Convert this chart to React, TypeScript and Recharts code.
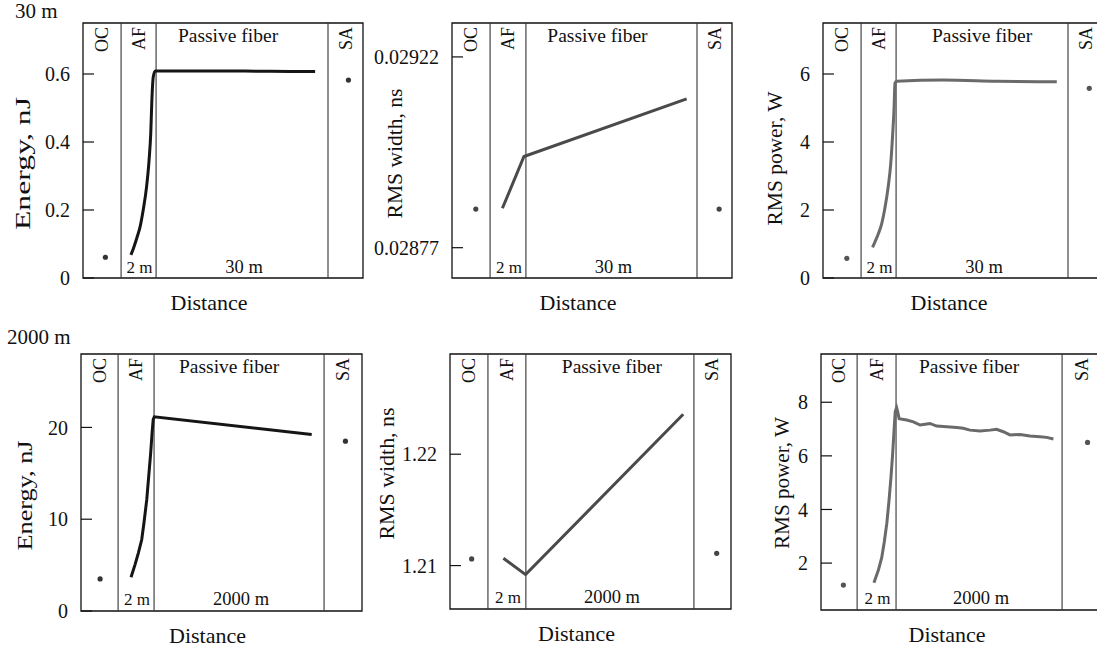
import { ComposedChart, Line, Scatter, XAxis, YAxis, ReferenceLine, ReferenceArea } from 'recharts';

const FONT = '"Liberation Serif", "Times New Roman", serif';
const INK = '#111';

// x runs 0..100 across each panel box: OC | AF | Passive fiber | SA
const X_DOMAIN: [number, number] = [0, 100];

// ---- 30 m fiber ----
const energy30Curve = [
  { x: 17.1, y: 0.068 }, { x: 18.0, y: 0.087 }, { x: 19.2, y: 0.117 }, { x: 20.4, y: 0.151 },
  { x: 21.5, y: 0.2 }, { x: 22.7, y: 0.268 }, { x: 23.6, y: 0.347 }, { x: 24.2, y: 0.426 },
  { x: 24.6, y: 0.524 }, { x: 25.1, y: 0.592 }, { x: 25.8, y: 0.609 }, { x: 41.8, y: 0.609 },
  { x: 66.8, y: 0.608 }, { x: 82.9, y: 0.607 },
];
const energy30Dots = [{ x: 8.0, y: 0.061 }, { x: 94.8, y: 0.582 }];
const energy30Edges = [13.6, 26.1, 87.5];
const energy30Ticks = [0, 0.2, 0.4, 0.6];

const width30Curve = [
  { x: 18.0, y: 0.028863 }, { x: 25.7, y: 0.028985 }, { x: 83.8, y: 0.029121 },
];
const width30Dots = [{ x: 8.5, y: 0.028861 }, { x: 95.4, y: 0.028861 }];
const width30Edges = [13.6, 26.4, 87.5];
const width30Ticks = [0.02877, 0.02922];

const power30Curve = [
  { x: 17.7, y: 0.9 }, { x: 18.6, y: 1.07 }, { x: 19.8, y: 1.31 }, { x: 21.0, y: 1.61 },
  { x: 22.1, y: 2.05 }, { x: 23.3, y: 2.69 }, { x: 24.2, y: 3.37 }, { x: 24.9, y: 4.25 },
  { x: 25.4, y: 5.04 }, { x: 25.7, y: 5.73 }, { x: 26.3, y: 5.79 }, { x: 43.0, y: 5.82 },
  { x: 62.0, y: 5.79 }, { x: 83.5, y: 5.77 },
];
const power30Dots = [{ x: 8.5, y: 0.58 }, { x: 95.1, y: 5.58 }];
const power30Edges = [13.6, 26.1, 87.5];
const power30Ticks = [0, 2, 4, 6];

// ---- 2000 m fiber ----
const energy2000Curve = [
  { x: 17.8, y: 3.68 }, { x: 19.2, y: 5.03 }, { x: 20.4, y: 6.31 }, { x: 21.6, y: 7.76 },
  { x: 22.4, y: 9.58 }, { x: 23.4, y: 12.13 }, { x: 24.2, y: 15.05 }, { x: 24.8, y: 17.23 },
  { x: 25.3, y: 19.42 }, { x: 25.7, y: 20.87 }, { x: 26.1, y: 21.16 }, { x: 82.1, y: 19.23 },
];
const energy2000Dots = [{ x: 6.8, y: 3.5 }, { x: 94.1, y: 18.5 }];
const energy2000Edges = [13.2, 26.0, 86.5];
const energy2000Ticks = [0, 10, 20];

const width2000Curve = [
  { x: 19.0, y: 1.21066 }, { x: 26.9, y: 1.20919 }, { x: 83.0, y: 1.22359 },
];
const width2000Dots = [{ x: 7.7, y: 1.2106 }, { x: 94.9, y: 1.2111 }];
const width2000Edges = [13.5, 27.0, 86.8];
const width2000Ticks = [1.21, 1.22];

const power2000Curve = [
  { x: 18.9, y: 1.27 }, { x: 20.5, y: 1.74 }, { x: 21.7, y: 2.21 }, { x: 22.6, y: 2.79 },
  { x: 23.5, y: 3.48 }, { x: 24.3, y: 4.34 }, { x: 25.0, y: 5.22 }, { x: 25.6, y: 6.09 },
  { x: 26.1, y: 6.96 }, { x: 26.5, y: 7.64 }, { x: 27.0, y: 7.8 }, { x: 27.4, y: 7.64 },
  { x: 27.9, y: 7.39 }, { x: 30.6, y: 7.34 }, { x: 33.0, y: 7.27 }, { x: 35.4, y: 7.15 },
  { x: 37.8, y: 7.19 }, { x: 38.9, y: 7.21 }, { x: 41.3, y: 7.11 }, { x: 44.9, y: 7.09 },
  { x: 48.5, y: 7.06 }, { x: 50.8, y: 7.03 }, { x: 53.2, y: 6.96 }, { x: 56.8, y: 6.93 },
  { x: 60.4, y: 6.96 }, { x: 62.7, y: 6.99 }, { x: 65.1, y: 6.9 }, { x: 67.5, y: 6.78 },
  { x: 71.1, y: 6.8 }, { x: 74.6, y: 6.74 }, { x: 78.2, y: 6.71 }, { x: 80.6, y: 6.69 },
  { x: 83.0, y: 6.63 },
];
const power2000Dots = [{ x: 8.0, y: 1.18 }, { x: 95.2, y: 6.5 }];
const power2000Edges = [12.9, 26.8, 86.1];
const power2000Ticks = [2, 4, 6, 8];

const Y_AXIS_W = 80;
const TOP_PAD = 5;
const X_AXIS_H = 45;

interface PanelProps {
  left: number; top: number; plotW: number; plotH: number;
  curve: { x: number; y: number }[];
  dots: { x: number; y: number }[];
  edges: number[];
  yDomain: [number, number];
  ticks: number[];
  yTitle: string;
  yTitleDx: number; yTitleDy: number; yTitleLen: number;
  pfDx: number; bottomPad: number;
  length: string;
  lineColor: string; dotColor: string;
  curveType: 'linear' | 'monotone';
}

function Panel(p: PanelProps) {
  const w = Y_AXIS_W + p.plotW + 5;
  const h = TOP_PAD + p.plotH + X_AXIS_H;
  const [e0, e1, e2] = p.edges;

  const rotated = (text: string) => (props: any) => {
    const vb = props.viewBox;
    const cx = vb.x + vb.width / 2;
    const cy = vb.y + 4;
    return (
      <text x={cx} y={cy} transform={`rotate(-90 ${cx} ${cy})`} textAnchor="end" dominantBaseline="central"
        fontFamily={FONT} fontSize={18} fill={INK}>{text}</text>
    );
  };
  const afLabel = (props: any) => {
    const vb = props.viewBox;
    const cx = vb.x + vb.width / 2;
    return (
      <g>
        {rotated('AF')(props)}
        <text x={cx + 1} y={vb.y + vb.height - p.bottomPad} textAnchor="middle" fontFamily={FONT} fontSize={17} fill={INK}>2 m</text>
      </g>
    );
  };
  const pfLabel = (props: any) => {
    const vb = props.viewBox;
    const cx = vb.x + vb.width / 2;
    return (
      <g>
        <text x={cx + p.pfDx} y={vb.y + 19} textAnchor="middle" fontFamily={FONT} fontSize={19.5} fill={INK}>Passive fiber</text>
        <text x={cx + 2} y={vb.y + vb.height - p.bottomPad} textAnchor="middle" fontFamily={FONT} fontSize={18.5} fill={INK}>{p.length}</text>
      </g>
    );
  };
  const yLabel = (props: any) => {
    const vb = props.viewBox;
    const cx = vb.x + vb.width + p.yTitleDx;
    const cy = vb.y + vb.height / 2 + p.yTitleDy;
    return (
      <text x={cx} y={cy} transform={`rotate(-90 ${cx} ${cy})`} textAnchor="middle" dominantBaseline="central"
        textLength={p.yTitleLen} lengthAdjust="spacingAndGlyphs"
        fontFamily={FONT} fontSize={21} fill={INK}>{p.yTitle}</text>
    );
  };
  const xLabel = (props: any) => {
    const vb = props.viewBox;
    return (
      <text x={vb.x + vb.width / 2 - 14} y={vb.y + 32} textAnchor="middle" fontFamily={FONT} fontSize={22} fill={INK}>Distance</text>
    );
  };

  return (
    <div style={{ position: 'absolute', left: p.left - Y_AXIS_W, top: p.top - TOP_PAD }}>
      <ComposedChart width={w} height={h} margin={{ top: TOP_PAD, right: 5, left: 0, bottom: 0 }}>
        <XAxis type="number" dataKey="x" domain={X_DOMAIN} allowDataOverflow tick={false} tickLine={false}
          axisLine={false} height={X_AXIS_H} label={xLabel} />
        <YAxis type="number" dataKey="y" domain={p.yDomain} allowDataOverflow ticks={p.ticks} interval={0}
          width={Y_AXIS_W} axisLine={false} tickSize={-11} tickMargin={24}
          tickLine={{ stroke: INK, strokeWidth: 1.2 }}
          tick={{ fill: INK, fontSize: 20, fontFamily: FONT }} label={yLabel} />

        <ReferenceArea x1={0} x2={e0} fill="none" stroke="none" label={rotated('OC')} />
        <ReferenceArea x1={e0} x2={e1} fill="none" stroke="none" label={afLabel} />
        <ReferenceArea x1={e1} x2={e2} fill="none" stroke="none" label={pfLabel} />
        <ReferenceArea x1={e2} x2={100} fill="none" stroke="none" label={rotated('SA')} />

        {p.edges.map(e => (
          <ReferenceLine key={e} x={e} stroke="#333" strokeWidth={1.1} />
        ))}

        <Line data={p.curve} dataKey="y" type={p.curveType} stroke={p.lineColor} strokeWidth={3}
          dot={false} activeDot={false} isAnimationActive={false} />
        <Scatter data={p.dots} dataKey="y" isAnimationActive={false}
          shape={(s: any) => <circle cx={s.cx} cy={s.cy} r={2.6} fill={p.dotColor} />} />

        <ReferenceArea x1={0} x2={100} y1={p.yDomain[0]} y2={p.yDomain[1]} fill="none" stroke={INK} strokeWidth={1.3} />
      </ComposedChart>
    </div>
  );
}

export default function App() {
  const rowTitle = { position: 'absolute' as const, fontFamily: FONT, fontSize: 21, lineHeight: 1, color: INK };
  return (
    <div style={{ position: 'absolute', left: 0, top: 0, width: 1097, height: 652, overflow: 'hidden', background: '#fff' }}>
      <div style={{ ...rowTitle, left: 15, top: 1 }}>30 m</div>
      <div style={{ ...rowTitle, left: 7, top: 327 }}>2000 m</div>

      <Panel left={83} top={23} plotW={280} plotH={255} curve={energy30Curve} dots={energy30Dots}
        edges={energy30Edges} yDomain={[0, 0.75]} ticks={energy30Ticks} yTitle="Energy, nJ"
        yTitleDx={-60} yTitleDy={13} yTitleLen={133} pfDx={-14} bottomPad={5} length="30 m"
        lineColor="#151515" dotColor="#333" curveType="monotone" />
      <Panel left={452} top={23} plotW={280} plotH={255} curve={width30Curve} dots={width30Dots}
        edges={width30Edges} yDomain={[0.0286985, 0.0293]} ticks={width30Ticks} yTitle="RMS width, ns"
        yTitleDx={-57} yTitleDy={3} yTitleLen={130} pfDx={-14} bottomPad={5} length="30 m"
        lineColor="#4a4a4a" dotColor="#444" curveType="linear" />
      <Panel left={823} top={23} plotW={280} plotH={255} curve={power30Curve} dots={power30Dots}
        edges={power30Edges} yDomain={[0, 7.5]} ticks={power30Ticks} yTitle="RMS power, W"
        yTitleDx={-48} yTitleDy={8} yTitleLen={134} pfDx={0} bottomPad={5} length="30 m"
        lineColor="#6a6a6a" dotColor="#555" curveType="monotone" />

      <Panel left={81} top={354} plotW={281} plotH={257} curve={energy2000Curve} dots={energy2000Dots}
        edges={energy2000Edges} yDomain={[0, 28]} ticks={energy2000Ticks} yTitle="Energy, nJ"
        yTitleDx={-56} yTitleDy={13} yTitleLen={110} pfDx={-10} bottomPad={6} length="2000 m"
        lineColor="#151515" dotColor="#333" curveType="linear" />
      <Panel left={450} top={354} plotW={281} plotH={255} curve={width2000Curve} dots={width2000Dots}
        edges={width2000Edges} yDomain={[1.2061, 1.229]} ticks={width2000Ticks} yTitle="RMS width, ns"
        yTitleDx={-63} yTitleDy={-8} yTitleLen={132} pfDx={2} bottomPad={6} length="2000 m"
        lineColor="#4a4a4a" dotColor="#444" curveType="linear" />
      <Panel left={821} top={354} plotW={280} plotH={256} curve={power2000Curve} dots={power2000Dots}
        edges={power2000Edges} yDomain={[0.25, 9.8]} ticks={power2000Ticks} yTitle="RMS power, W"
        yTitleDx={-39} yTitleDy={1} yTitleLen={132} pfDx={-10} bottomPad={6} length="2000 m"
        lineColor="#6a6a6a" dotColor="#555" curveType="linear" />
    </div>
  );
}
